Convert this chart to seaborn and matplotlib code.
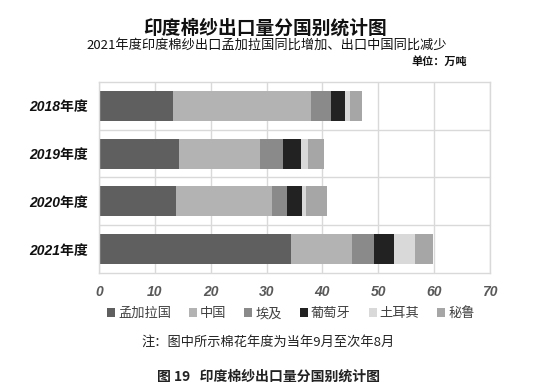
import numpy as np
import pandas as pd
import seaborn as sns
import matplotlib.pyplot as plt
from matplotlib.patches import Patch

years = ["2018年度", "2019年度", "2020年度", "2021年度"]
countries = ["孟加拉国", "中国", "埃及", "葡萄牙", "土耳其", "秘鲁"]
bangladesh = [13.3, 14.3, 13.7, 34.3]
china = [24.7, 14.5, 17.2, 11.0]
egypt = [3.6, 4.1, 2.8, 3.9]
portugal = [2.5, 3.2, 2.6, 3.6]
turkey = [0.8, 1.4, 0.8, 3.8]
peru = [2.1, 2.7, 3.8, 3.2]
colors = ["#5f5f5f", "#b3b3b3", "#8a8a8a", "#222222", "#d9d9d9", "#a6a6a6"]

sns.set_theme(style="white")
plt.rcParams["font.family"] = ["Noto Sans CJK SC", "DejaVu Sans"]

df = pd.DataFrame({"年度": years, "孟加拉国": bangladesh, "中国": china, "埃及": egypt,
                   "葡萄牙": portugal, "土耳其": turkey, "秘鲁": peru})
cum = df[countries].cumsum(axis=1)
cum["年度"] = years

fig = plt.figure(figsize=(5.33, 3.91), dpi=100)
ax = fig.add_axes([0.1857, 0.3018, 0.7336, 0.4885])

# stacked bars: draw totals first, then overlay shorter cumulative sums
for c, col in reversed(list(zip(countries, colors))):
    sns.barplot(data=cum, x=c, y="年度", color=col, width=0.625, ax=ax,
                saturation=1, edgecolor="none", linewidth=0)

ax.set_xlim(0, 70)
ax.set_ylim(3.5, -0.5)
ax.set_xticks(range(0, 71, 10))
ax.set_xticklabels([str(v) for v in range(0, 71, 10)], fontsize=10,
                   fontweight="bold", fontstyle="italic", color="#595959",
                   family=["Liberation Sans", "DejaVu Sans"])
ax.set_yticks(range(4))
ax.set_yticklabels(years, fontsize=10, fontweight="bold", fontstyle="italic", color="#111111",
                   family=["Liberation Sans", "Noto Sans CJK SC"])
ax.set_yticks([0.5, 1.5, 2.5], minor=True)
ax.set_xlabel("")
ax.set_ylabel("")
ax.tick_params(axis="both", length=0)
ax.tick_params(axis="x", pad=9)
ax.tick_params(axis="y", pad=8)
ax.tick_params(axis="y", which="minor", length=0)
ax.grid(axis="x", which="major", color="#d9d9d9", linewidth=1)
ax.grid(axis="y", which="minor", color="#d9d9d9", linewidth=1)
ax.grid(axis="y", which="major", visible=False)
ax.set_axisbelow(True)
for s in ax.spines.values():
    s.set_color("#d9d9d9")
    s.set_linewidth(1)

fig.text(0.497, 0.928, "印度棉纱出口量分国别统计图", ha="center", va="center", fontsize=13.5,
         fontweight="bold", color="#111111")
fig.text(0.5, 0.884, "2021年度印度棉纱出口孟加拉国同比增加、出口中国同比减少", ha="center",
         va="center", fontsize=9.5, color="#111111")
fig.text(0.824, 0.843, "单位：万吨", ha="center", va="center", fontsize=8, fontweight="bold",
         color="#111111")

handles = [Patch(facecolor=col, edgecolor="none", label=c) for c, col in zip(countries, colors)]
fig.legend(handles=handles, loc="center left", bbox_to_anchor=(0.178, 0.198), ncol=6,
           frameon=False, fontsize=9.5, handlelength=0.6, handleheight=0.6,
           handletextpad=0.25, columnspacing=1.35, labelcolor="#404040")

fig.text(0.503, 0.125, "注：图中所示棉花年度为当年9月至次年8月", ha="center", va="center",
         fontsize=9.5, color="#222222")
fig.text(0.503, 0.036, "图 19   印度棉纱出口量分国别统计图", ha="center", va="center",
         fontsize=10, fontweight="bold", color="#222222")

fig.savefig("out.png", dpi=100)
